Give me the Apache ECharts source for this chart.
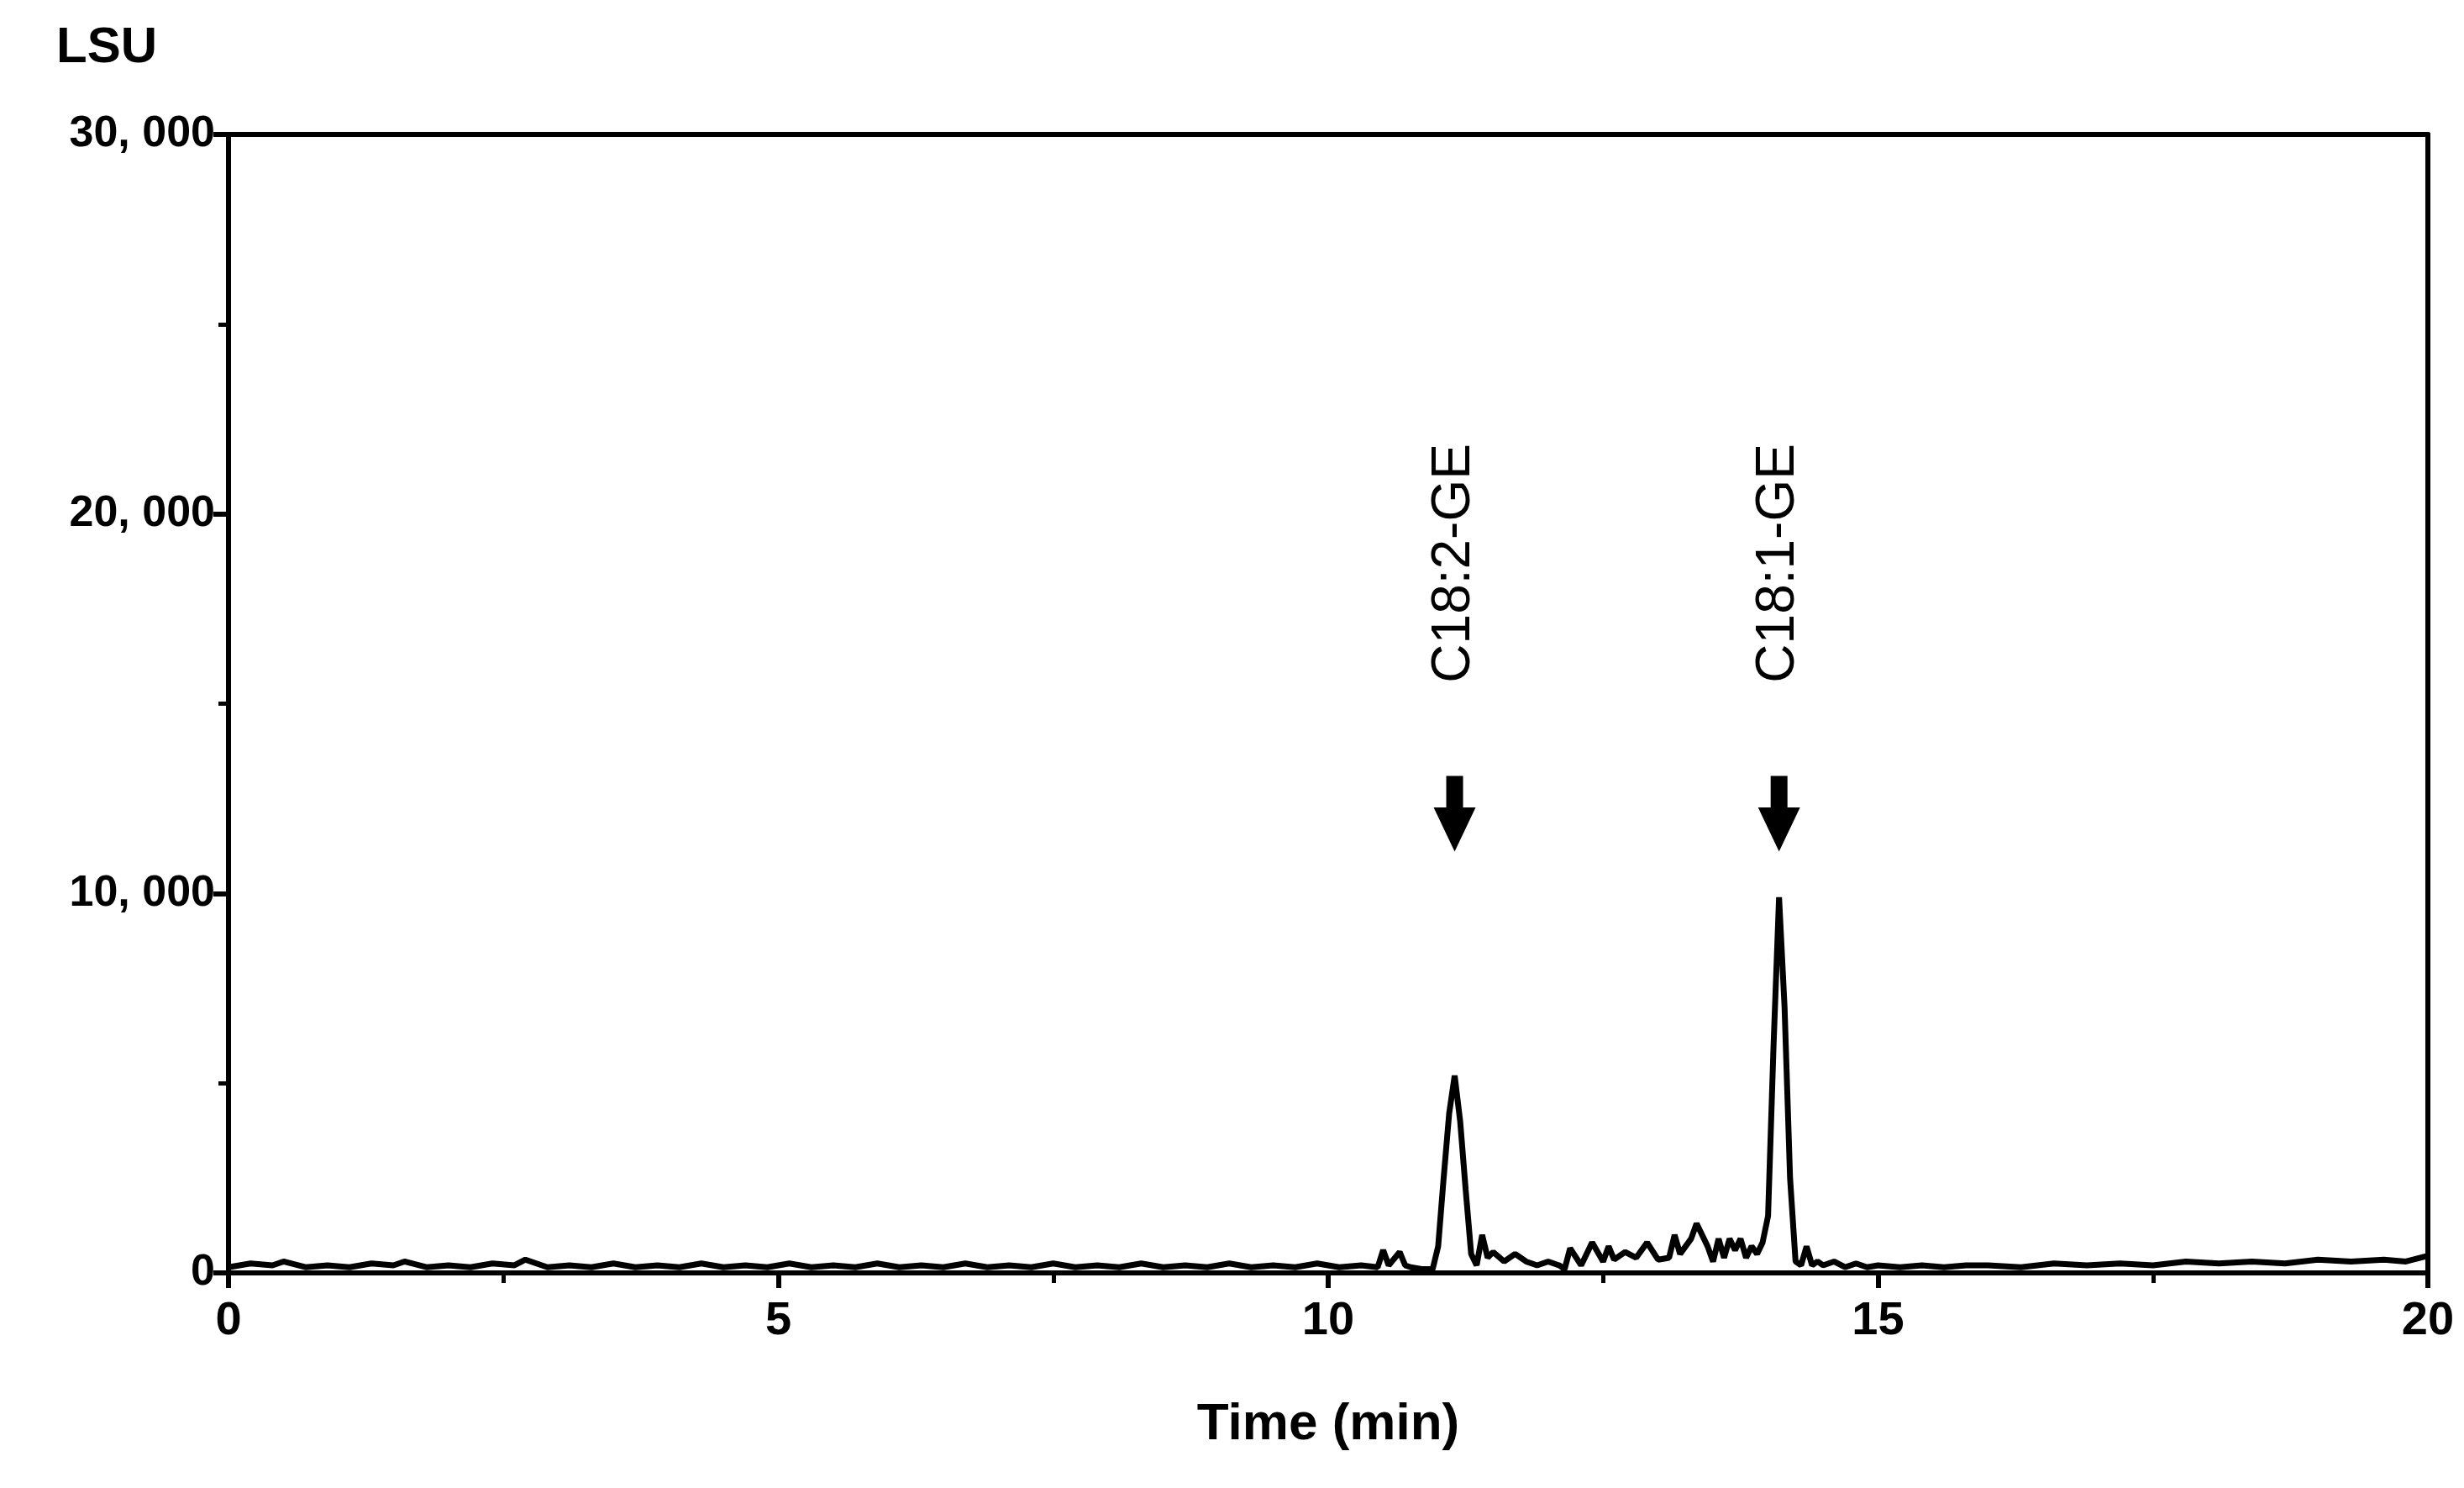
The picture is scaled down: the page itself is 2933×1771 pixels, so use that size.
<!DOCTYPE html>
<html>
<head>
<meta charset="utf-8">
<script src="https://cdn.jsdelivr.net/npm/echarts@6/dist/echarts.min.js"></script>
<style>html,body{margin:0;padding:0;background:#fff}#chart{width:2933px;height:1771px}</style>
</head>
<body>
<div id="chart"></div>
<script>
// chromatogram trace: time (min) and signal (LSU)
var times = [0, 0.2, 0.4, 0.5, 0.7, 0.9, 1.1, 1.3, 1.5, 1.6, 1.8, 2.0, 2.2, 2.4, 2.6, 2.7, 2.9, 3.1, 3.3, 3.5,
    3.7, 3.9, 4.1, 4.3, 4.5, 4.7, 4.9, 5.1, 5.3, 5.5, 5.7, 5.9, 6.1, 6.3, 6.5, 6.7, 6.9, 7.1, 7.3, 7.5,
    7.7, 7.9, 8.1, 8.3, 8.5, 8.7, 8.9, 9.1, 9.3, 9.5, 9.7, 9.9, 10.1, 10.3, 10.45, 10.5, 10.55, 10.65, 10.7, 10.75,
    10.85, 10.95, 11.0, 11.05, 11.1, 11.15, 11.2, 11.25, 11.3, 11.35, 11.4, 11.45, 11.5, 11.6, 11.7, 11.8, 11.9, 12.0, 12.1, 12.15,
    12.2, 12.3, 12.4, 12.5, 12.55, 12.6, 12.7, 12.8, 12.9, 13.0, 13.1, 13.15, 13.2, 13.3, 13.35, 13.4, 13.45, 13.5, 13.55, 13.6,
    13.65, 13.7, 13.75, 13.8, 13.85, 13.9, 13.95, 14.0, 14.05, 14.1, 14.15, 14.2, 14.25, 14.3, 14.35, 14.4, 14.45, 14.5, 14.6, 14.7,
    14.8, 14.9, 15.0, 15.2, 15.4, 15.6, 15.8, 16.0, 16.3, 16.6, 16.9, 17.2, 17.5, 17.8, 18.1, 18.4, 18.7, 19.0, 19.3, 19.6, 19.8, 20.0];
var signal = [150, 250, 200, 300, 150, 200, 150, 250, 200, 300, 150, 200, 150, 250, 200, 350, 150, 200, 150, 250,
    150, 200, 150, 250, 150, 200, 150, 250, 150, 200, 150, 250, 150, 200, 150, 250, 150, 200, 150, 250,
    150, 200, 150, 250, 150, 200, 150, 250, 150, 200, 150, 250, 150, 200, 150, 600, 200, 550, 200, 150,
    100, 100, 700, 2500, 4200, 5200, 4000, 2200, 500, 200, 1000, 400, 550, 300, 500, 300, 200, 300, 200, 100,
    650, 200, 800, 300, 700, 350, 550, 400, 800, 350, 400, 1000, 500, 900, 1300, 1000, 700, 300, 900, 400,
    900, 600, 900, 400, 700, 500, 800, 1500, 6000, 9900, 7000, 2500, 300, 200, 700, 200, 300, 200, 300, 150,
    250, 150, 200, 150, 200, 150, 200, 200, 150, 250, 200, 250, 200, 300, 250, 300, 250, 350, 300, 350, 300, 450];
var peakNames = ['C18:2-GE', 'C18:1-GE'];
var peakTimes = [11.15, 14.1];

var trace = times.map(function (t, i) { return [t, signal[i]]; });
var fmt = function (v) { return v === 0 ? '0' : String(v / 1000) + ', 000'; };
var frameAxis = {type: 'value', min: 0, axisLine: {show: true, onZero: false, lineStyle: {color: '#000', width: 6}},
    axisTick: {show: false}, axisLabel: {show: false}, splitLine: {show: false}};

var chart = echarts.init(document.getElementById('chart'));
chart.setOption({
    animation: false,
    grid: {left: 272, right: 43, top: 160, bottom: 256},
    title: {text: 'LSU', left: 62, top: 22, textStyle: {fontSize: 60, fontWeight: 'bold', color: '#000', fontFamily: 'Arial'}},
    xAxis: [{
        type: 'value', min: 0, max: 20, interval: 5,
        name: 'Time (min)', nameLocation: 'middle', nameGap: 150,
        nameTextStyle: {fontSize: 62, fontWeight: 'bold', color: '#000', fontFamily: 'Arial'},
        axisLine: {lineStyle: {color: '#000', width: 6}},
        axisTick: {length: 18, lineStyle: {color: '#000', width: 6}},
        minorTick: {show: true, splitNumber: 2, length: 12, lineStyle: {color: '#000', width: 5}},
        axisLabel: {fontSize: 56, fontWeight: 'bold', color: '#000', margin: 30, fontFamily: 'Arial'},
        splitLine: {show: false}
    }, Object.assign({position: 'top', max: 20}, frameAxis)],
    yAxis: [{
        type: 'value', min: 0, max: 30000, interval: 10000,
        axisLine: {show: true, lineStyle: {color: '#000', width: 6}},
        axisTick: {show: true, length: 18, lineStyle: {color: '#000', width: 6}},
        minorTick: {show: true, splitNumber: 2, length: 12, lineStyle: {color: '#000', width: 5}},
        axisLabel: {fontSize: 52, fontWeight: 'bold', color: '#000', margin: 16, fontFamily: 'Arial', formatter: fmt},
        splitLine: {show: false}
    }, Object.assign({position: 'right', max: 30000}, frameAxis)],
    series: [{
        type: 'line', data: trace, symbol: 'none',
        lineStyle: {color: '#000', width: 7},
        markPoint: {
            silent: true,
            data: peakTimes.map(function (t) {
                return {
                    coord: [t, 12100],
                    symbol: 'path://M3,0 L7,0 L7,5 L10,5 L5,12 L0,5 L3,5 Z',
                    symbolSize: [50, 90], itemStyle: {color: '#000'},
                    label: {show: false}
                };
            }).concat(peakTimes.map(function (t, i) {
                return {
                    coord: [t, 18700], symbol: 'circle', symbolSize: 2,
                    itemStyle: {color: 'rgba(0,0,0,0)'},
                    label: {show: true, formatter: peakNames[i], rotate: 90, fontSize: 64, color: '#000',
                        fontFamily: 'Arial', position: 'inside', align: 'center', verticalAlign: 'middle'}
                };
            }))
        }
    }]
});
</script>
</body>
</html>
